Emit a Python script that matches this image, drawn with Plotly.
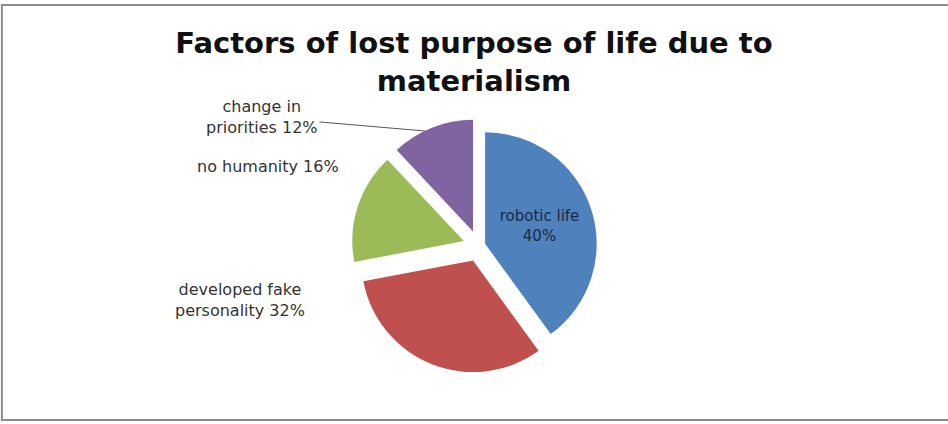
import plotly.graph_objects as go

# Survey shares, clockwise from 12 o'clock
categories = ["robotic life", "developed fake personality", "no humanity", "change in priorities"]
label_lines = ["robotic life<br>", "developed fake<br>personality ", "no humanity ", "change in<br>priorities "]
shares = [40, 32, 16, 12]

colors = ["#4F81BD", "#C0504D", "#9BBB59", "#8064A2"]
label_font = "DejaVu Sans"
H = 424  # figure height in px, used to place labels in paper units

slice_text = [f"{t}{v}%" for t, v in zip(label_lines, shares)]

fig = go.Figure(
    go.Pie(
        labels=categories,
        values=shares,
        text=slice_text,
        textinfo="text",
        texttemplate="%{text}",
        textposition=["inside", "none", "none", "none"],
        insidetextorientation="horizontal",
        sort=False,
        direction="clockwise",
        rotation=0,
        pull=[0.06, 0.14, 0.14, 0.14],
        marker=dict(colors=colors, line=dict(width=0)),
        insidetextfont=dict(family=label_font, size=15, color="#1b2b45"),
        domain=dict(x=[0.30, 0.71], y=[0.12, 0.72]),
        showlegend=False,
        hoverinfo="label+percent",
    )
)

# Outside labels for the two left-hand slices
outside = [
    dict(i=1, x=240, y=300),
    dict(i=2, x=268, y=166),
]
annotations = [
    dict(
        text=slice_text[o["i"]],
        x=o["x"] / 948,
        y=1 - o["y"] / H,
        xref="paper",
        yref="paper",
        xanchor="center",
        yanchor="middle",
        showarrow=False,
        align="center",
        font=dict(family=label_font, size=16, color="#333333"),
    )
    for o in outside
]
# "change in priorities" label with a leader line to its slice
annotations.append(
    dict(
        text=slice_text[3],
        x=425 / 948,
        y=1 - 131 / H,
        xref="paper",
        yref="paper",
        showarrow=True,
        arrowhead=0,
        arrowwidth=1,
        arrowcolor="#555555",
        ax=-163,
        ay=-14,
        align="center",
        font=dict(family=label_font, size=16, color="#333333"),
    )
)

fig.update_layout(
    width=948,
    height=H,
    margin=dict(l=0, r=0, t=0, b=0),
    paper_bgcolor="white",
    plot_bgcolor="white",
    title=dict(
        text="<b>Factors of lost purpose of life due to<br>materialism</b>",
        x=0.5,
        xanchor="center",
        xref="paper",
        yref="paper",
        y=1 - 53 / H,
        yanchor="middle",
        font=dict(family="DejaVu Sans", size=29, color="#111111"),
    ),
    annotations=annotations,
    shapes=[
        dict(
            type="rect",
            xref="paper",
            yref="paper",
            x0=0.002,
            x1=1.01,
            y0=1 - 420 / H,
            y1=1 - 5 / H,
            line=dict(color="#8c8c8c", width=2),
            fillcolor="rgba(0,0,0,0)",
        )
    ],
)

fig.write_html("out.html")
